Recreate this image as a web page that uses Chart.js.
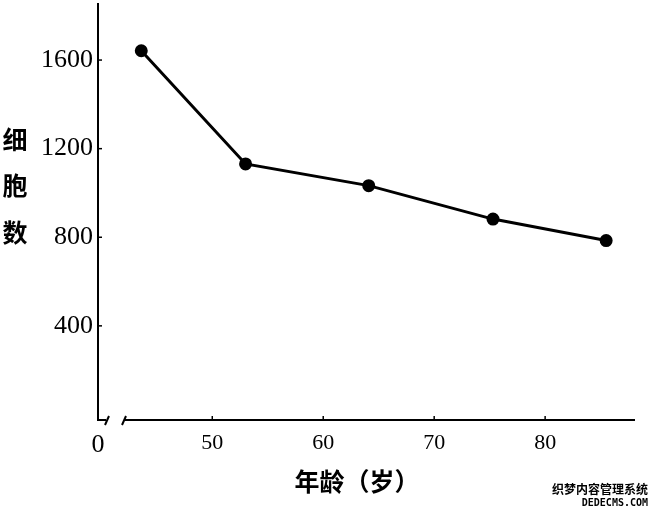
<!DOCTYPE html>
<html>
<head>
<meta charset="utf-8">
<script src="https://cdn.jsdelivr.net/npm/chart.js@4/dist/chart.umd.min.js"></script>
<style>
  html, body { margin: 0; padding: 0; background: #fff; }
  #wrap { width: 660px; height: 517px; }
</style>
</head>
<body>
<div id="wrap"><canvas id="c" width="660" height="517"></canvas></div>
<script>
// ---- data ----
const ages = [43.6, 53.0, 64.1, 75.3, 85.5];
const cells = [1642, 1131, 1033, 882, 785];
const xTickValues = [50, 60, 70, 80];
const yTickValues = [400, 800, 1200, 1600];
const xOriginLabel = '0';
const xTitle = '年龄（岁）';
const yTitleChars = ['细', '胞', '数'];
const watermark = ['织梦内容管理系统', 'DEDECMS.COM'];

const X_MIN = 39.7, X_MAX = 88.1;
const Y_MIN = -25, Y_MAX = 1835;

const serif = '"Liberation Serif", "DejaVu Serif", serif';
const cjk = '"Noto Sans CJK SC", sans-serif';

const decor = {
  id: 'decor',
  afterDraw(chart) {
    const ctx = chart.ctx;
    const xs = chart.scales.x, ys = chart.scales.y;
    const ca = chart.chartArea;
    const x0 = ca.left, yb = ca.bottom;
    ctx.save();
    ctx.strokeStyle = '#000';
    ctx.fillStyle = '#000';
    ctx.lineWidth = 2;
    // y axis line
    ctx.beginPath();
    ctx.moveTo(x0, Math.max(2, ca.top - 5));
    ctx.lineTo(x0, yb);
    ctx.lineTo(x0 + 8, yb);
    ctx.stroke();
    // break marks
    ctx.beginPath();
    ctx.moveTo(x0 + 7, yb + 5); ctx.lineTo(x0 + 11, yb - 4);
    ctx.moveTo(x0 + 24, yb + 5); ctx.lineTo(x0 + 28, yb - 4);
    ctx.stroke();
    // x axis line after break
    ctx.beginPath();
    ctx.moveTo(x0 + 27, yb);
    ctx.lineTo(ca.right, yb);
    ctx.stroke();
    // y ticks (inward)
    ctx.lineWidth = 1.5;
    yTickValues.forEach(v => {
      const p = ys.getPixelForValue(v);
      ctx.beginPath(); ctx.moveTo(x0, p); ctx.lineTo(x0 + 4, p); ctx.stroke();
    });
    // x ticks (upward)
    xTickValues.forEach(v => {
      const p = xs.getPixelForValue(v);
      ctx.beginPath(); ctx.moveTo(p, yb); ctx.lineTo(p, yb - 4); ctx.stroke();
    });
    // y title (stacked characters)
    ctx.font = 'bold 25px ' + cjk;
    ctx.textAlign = 'center';
    ctx.textBaseline = 'middle';
    yTitleChars.forEach((ch, i) => {
      ctx.fillText(ch, 15, 139 + i * 46.5);
    });
    // x title
    ctx.font = 'bold 25px ' + cjk;
    ctx.fillText(xTitle, 357, 481);
    // watermark
    ctx.font = 'bold 12px ' + cjk;
    ctx.textAlign = 'right';
    ctx.fillText(watermark[0], 648, 489);
    ctx.font = 'bold 10px "DejaVu Sans Mono", monospace';
    ctx.fillText(watermark[1], 648, 503);
    ctx.restore();
  }
};

new Chart(document.getElementById('c'), {
  type: 'line',
  data: {
    datasets: [{
      data: ages.map((a, i) => ({ x: a, y: cells[i] })),
      borderColor: '#000',
      backgroundColor: '#000',
      borderWidth: 3,
      pointRadius: 5,
      pointHoverRadius: 5,
      pointBackgroundColor: '#000',
      pointBorderColor: '#000',
      tension: 0,
      fill: false
    }]
  },
  options: {
    responsive: false,
    animation: false,
    devicePixelRatio: 1,
    layout: { padding: { top: 0, right: 25, left: 0, bottom: 0 } },
    plugins: { legend: { display: false }, tooltip: { enabled: false }, title: { display: false } },
    scales: {
      x: {
        type: 'linear',
        min: X_MIN, max: X_MAX,
        grid: { display: false, drawTicks: false },
        border: { display: false },
        afterBuildTicks(scale) {
          scale.ticks = [{ value: X_MIN }].concat(xTickValues.map(v => ({ value: v })));
        },
        afterFit(scale) { scale.height = 97; scale.paddingLeft = 0; scale.paddingRight = 0; },
        ticks: {
          autoSkip: false,
          maxRotation: 0,
          padding: 10,
          color: '#000',
          font: (c) => (c.tick && c.tick.value === X_MIN) ? { family: serif, size: 26 } : { family: serif, size: 22 },
          callback: (v) => v === X_MIN ? xOriginLabel : String(v)
        }
      },
      y: {
        type: 'linear',
        min: Y_MIN, max: Y_MAX,
        grid: { display: false, drawTicks: false },
        border: { display: false },
        afterBuildTicks(scale) {
          scale.ticks = yTickValues.map(v => ({ value: v }));
        },
        afterFit(scale) { scale.width = 98; scale.paddingTop = 0; scale.paddingBottom = 0; },
        ticks: {
          padding: 5,
          color: '#000',
          font: { family: serif, size: 26 },
          callback: (v) => String(v)
        }
      }
    }
  },
  plugins: [decor]
});
</script>
</body>
</html>
